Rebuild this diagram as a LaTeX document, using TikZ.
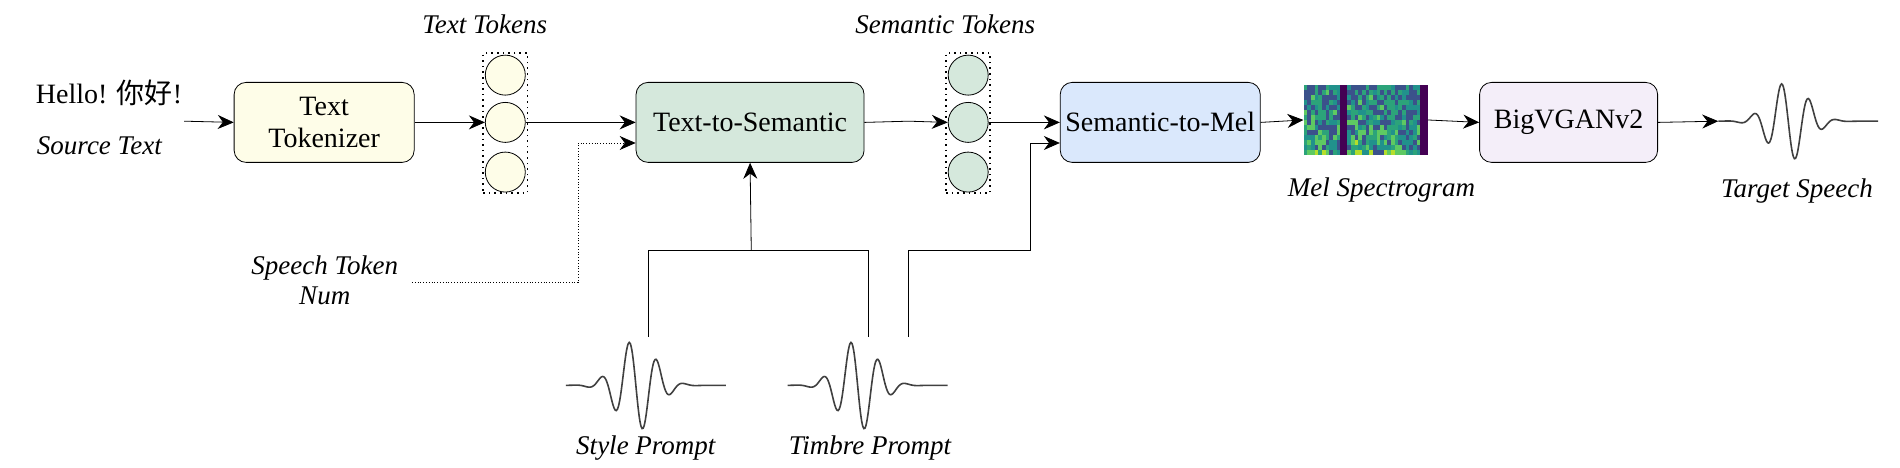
\documentclass[tikz,border=0pt]{standalone}
\usepackage{fontspec}
\setmainfont{Liberation Serif}
\newfontfamily\cjk{Noto Sans CJK SC}
\usetikzlibrary{positioning,arrows.meta}

\definecolor{tokyellow}{HTML}{FEFDE8}
\definecolor{semgreen}{HTML}{D5E8DC}
\definecolor{melblue}{HTML}{DAE8FC}
\definecolor{voclilac}{HTML}{F4EEF9}
\definecolor{vir0}{HTML}{440154}
\definecolor{vir1}{HTML}{3B528B}
\definecolor{vir2}{HTML}{21918C}
\definecolor{vir3}{HTML}{2CA37A}
\definecolor{vir4}{HTML}{5EC962}
\definecolor{vir5}{HTML}{B5DE2B}

\tikzset{
    block/.style={draw, rounded corners=6pt, minimum width=#1, minimum height=40pt,
        font=\fontsize{14}{16}\selectfont, align=center, inner sep=1pt},
    tok/.style={draw, circle, minimum size=20pt, inner sep=0pt},
    tokbox/.style={draw, dotted, line width=0.8pt, minimum width=22pt, minimum height=70pt, inner sep=0pt},
    lbl/.style={font=\fontsize{13.5}{15}\selectfont\itshape},
    arr/.style={-{Stealth[length=8pt,width=7pt]}},
}

\newcommand{\wavedraw}[3]{% center x, center y, amplitude
    \draw[black!75, line width=0.8pt, shift={(#1,#2)}]
        plot[domain=-66:66, samples=150, smooth]
        (\x,{-#3*exp(-((\x+8)/22)^2)*cos((\x+14)/23*360)});
}

\begin{document}
\begin{tikzpicture}[x=0.6058pt, y=-0.6058pt]
    \useasboundingbox (0,0) rectangle (1568,386);

    % source text
    \node[font=\fontsize{14}{16}\selectfont] (src) at (90,77) {Hello! {\cjk 你好}!};
    \node[lbl] (srclbl) at (82,120) {Source Text};
    \coordinate (srcout) at (152,100);

    % text tokenizer and tokens
    \node[block=90pt, fill=tokyellow] (tokenizer) at (267.5,101) {Text\\Tokenizer};
    \node[tokbox] (ttbox) at (417,101.5) {};
    \foreach \i/\y in {1/62,2/101,3/142}
        \node[tok, fill=tokyellow] (tt\i) at (417,\y) {};
    \node[lbl] (ttlbl) at (400,20) {Text Tokens};

    % text-to-semantic
    \node[block=114pt, fill=semgreen] (t2s) at (619,101) {Text-to-Semantic};
    \node[lbl, align=center] (num) at (268,231) {Speech Token\\Num};
    \coordinate (numout) at (340,233);

    % semantic tokens
    \node[tokbox] (stbox) at (799,101.5) {};
    \foreach \i/\y in {1/62,2/101,3/142}
        \node[tok, fill=semgreen] (st\i) at (799,\y) {};
    \node[lbl] (stlbl) at (780,20) {Semantic Tokens};

    % semantic-to-mel, spectrogram, vocoder
    \node[block=100pt, fill=melblue] (s2m) at (957.5,101) {Semantic-to-Mel};
    \node[minimum width=61.8pt, minimum height=35pt, inner sep=0pt] (mel) at (1127,99) {};
    \pgfmathsetseed{7}
    \foreach \c in {0,...,33}{
        \foreach \r in {0,...,13}{
            \pgfmathsetmacro{\v}{rnd*4+1.4*\r/13}
            \pgfmathtruncatemacro{\k}{min(5,max(1,\v))}
            \ifnum\c=10 \def\k{0}\fi
            \ifnum\c=11 \def\k{0}\fi
            \ifnum\c=32 \def\k{0}\fi
            \ifnum\c=33 \def\k{0}\fi
            \fill[vir\k] (1076+\c*3,70+\r*4.15) rectangle ++(3.05,4.2);
        }
    }
    \node[lbl] (mellbl) at (1140,157) {Mel Spectrogram};
    \node[block=89pt, fill=voclilac] (vocoder) at (1294.5,101) {BigVGANv2};

    % waveforms
    \wavedraw{1484}{100}{33}
    \coordinate (wavein) at (1418,100);
    \node[lbl] (tgtlbl) at (1483,158) {Target Speech};
    \wavedraw{533}{318}{38}
    \coordinate (style) at (535,278);
    \node[lbl] (stylelbl) at (533,370) {Style Prompt};
    \wavedraw{716}{318}{38}
    \coordinate (timbre) at (717,278);
    \coordinate (timbre2) at (750,278);
    \node[lbl] (timbrelbl) at (718,370) {Timbre Prompt};

    % connectors
    \draw[arr] (srcout) -- (tokenizer.west);
    \draw[arr] (tokenizer.east) -- (tt2.west);
    \draw[arr] (tt2.east) -- (t2s.west);
    \draw[arr, densely dotted] (numout) -| (477,118) -- (t2s.west |- 0,118);
    \draw (style) |- (620,207) -| (timbre);
    \draw[arr] (620,207) -- (t2s.south);
    \draw[arr] (t2s.east) -- (750,100) -- (st2.west);
    \draw[arr] (st2.east) -- (s2m.west);
    \draw[arr] (timbre2) |- (850,207) |- (s2m.west |- 0,118);
    \draw[arr] (s2m.east) -- (mel.west);
    \draw[arr] (mel.east) -- (vocoder.west);
    \draw[arr] (vocoder.east) -- (wavein);
\end{tikzpicture}
\end{document}
